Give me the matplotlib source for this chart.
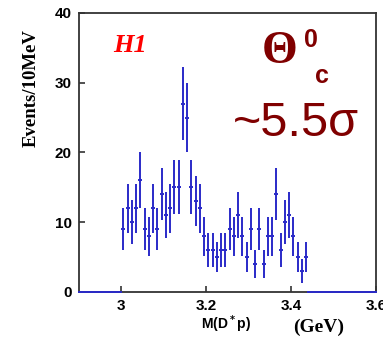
import matplotlib
matplotlib.use('Agg')
import numpy as np
import matplotlib.pyplot as plt

# bin centres (GeV) and counts
mass = [3.005, 3.015, 3.025, 3.035, 3.045, 3.055, 3.065, 3.075, 3.085, 3.095,
        3.105, 3.115, 3.125, 3.135, 3.145, 3.155, 3.165, 3.175, 3.185, 3.195,
        3.205, 3.215, 3.225, 3.235, 3.245, 3.255, 3.265, 3.275, 3.285, 3.295,
        3.305, 3.315, 3.325, 3.335, 3.345, 3.355, 3.365, 3.375, 3.385, 3.395,
        3.405, 3.415, 3.425, 3.435]
counts = [9, 12, 10, 12, 16, 9, 8, 12, 9, 14,
          11, 12, 15, 15, 27, 25, 15, 13, 12, 8,
          6, 6, 5, 6, 6, 9, 8, 11, 8, 5,
          9, 4, 9, 4, 8, 8, 14, 6, 10, 11,
          8, 5, 3, 5]
errors = [3.0, 3.5, 3.2, 3.5, 4.0, 3.0, 2.8, 3.5, 3.0, 3.7,
          3.3, 3.5, 3.9, 3.9, 5.2, 5.0, 3.9, 3.6, 3.5, 2.8,
          2.4, 2.4, 2.2, 2.4, 2.4, 3.0, 2.8, 3.3, 2.8, 2.2,
          3.0, 2.0, 3.0, 2.0, 2.8, 2.8, 3.7, 2.4, 3.2, 3.3,
          2.8, 2.2, 1.7, 2.2]

xticks = [3.0, 3.2, 3.4, 3.6]
xticklabels = ['3', '3.2', '3.4', '3.6']
yticks = [0, 10, 20, 30, 40]

fig = plt.figure(figsize=(3.83, 3.41), dpi=100)
ax = fig.add_axes([0.206, 0.144, 0.776, 0.818])

blue = '#2a2ac8'
ax.errorbar(mass, counts, yerr=errors, fmt='_', color=blue, ecolor=blue,
            elinewidth=1.4, markersize=3, markeredgewidth=1.4, capsize=0)
# empty bins outside the data range
ax.plot([2.9, 3.0], [0, 0], color=blue, lw=1.4, clip_on=False, zorder=5)
ax.plot([3.44, 3.6], [0, 0], color=blue, lw=1.4, clip_on=False, zorder=5)

ax.set_xlim(2.9, 3.6)
ax.set_ylim(0, 40)
ax.set_xticks(xticks)
ax.set_xticklabels(xticklabels)
ax.set_yticks(yticks)
ax.tick_params(direction='in', length=4, width=1.2, color='#333333',
               labelsize=11, pad=5)
for lab in ax.get_xticklabels() + ax.get_yticklabels():
    lab.set_fontweight('bold')
    lab.set_family('Liberation Sans')
for sp in ax.spines.values():
    sp.set_linewidth(1.3)
    sp.set_color('#333333')

# axis titles
fig.text(31 / 383, 1 - 88 / 341, 'Events/10MeV', rotation=90, ha='center', va='center',
         family='Liberation Serif', fontweight='bold', fontsize=13.5)
fig.text(226 / 383, 1 - 324 / 341, r'M(D$^{\bf *}$p)', ha='center', va='center',
         family='Liberation Sans', fontweight='bold', fontsize=10)
fig.text(319 / 383, 1 - 327 / 341, '(GeV)', ha='center', va='center',
         family='Liberation Serif', fontweight='bold', fontsize=14)

# labels inside the plot
fig.text(130 / 383, 1 - 46 / 341, 'H1', ha='center', va='center', color='red',
         family='Liberation Serif', fontweight='bold', style='italic', fontsize=19)
dred = '#800000'
fig.text(280 / 383, 1 - 52 / 341, '\u0398', ha='center', va='center', color=dred,
         family='Liberation Serif', fontweight='bold', fontsize=33)
fig.text(311 / 383, 1 - 40 / 341, '0', ha='center', va='center', color=dred,
         family='Liberation Sans', fontweight='bold', fontsize=18)
fig.text(322 / 383, 1 - 76 / 341, 'c', ha='center', va='center', color=dred,
         family='Liberation Sans', fontweight='bold', fontsize=18)
fig.text(296 / 383, 1 - 123 / 341, '~5.5\u03c3', ha='center', va='center', color=dred,
         family='Liberation Sans', fontsize=35)

fig.savefig('out.png', dpi=100)
